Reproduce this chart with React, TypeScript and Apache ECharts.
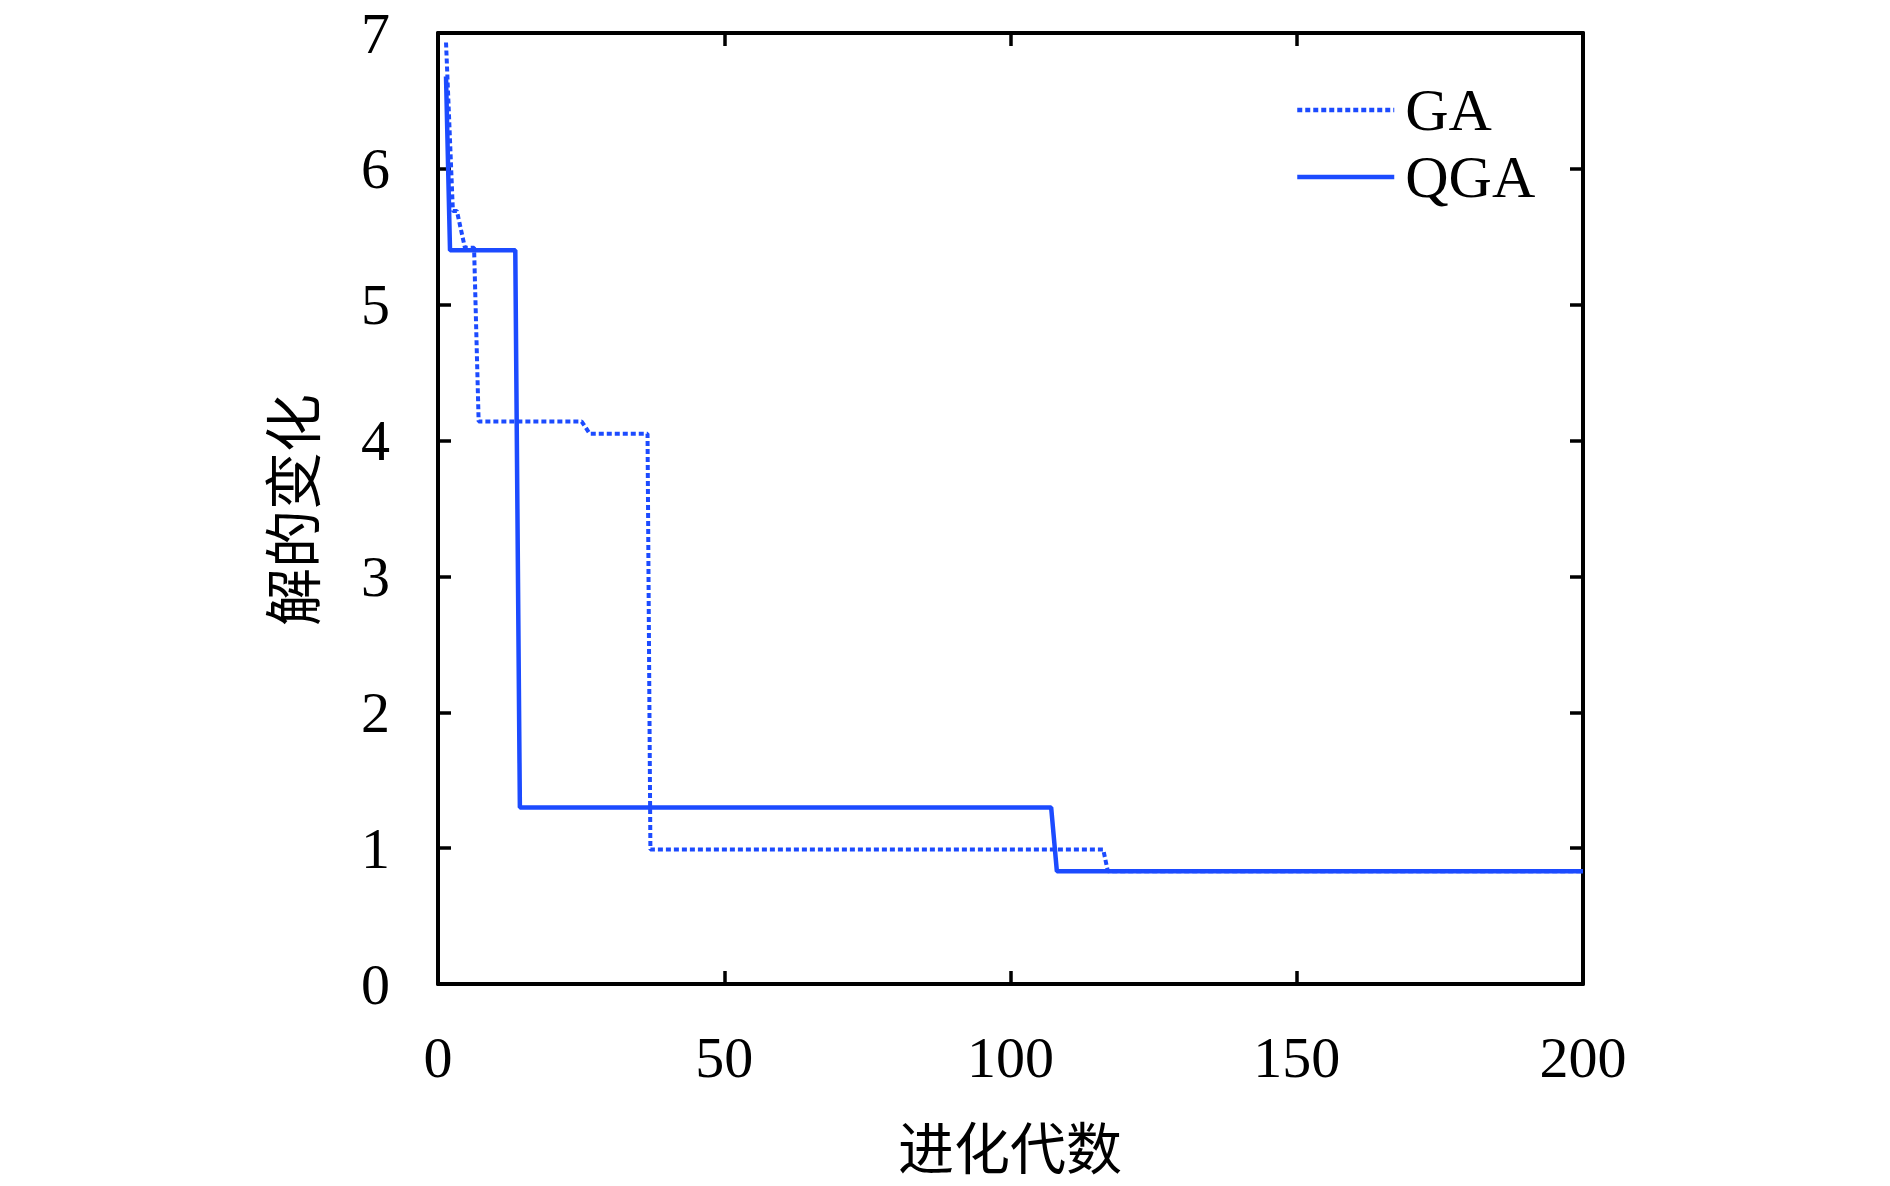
import React, { useEffect, useRef } from "react";
import * as echarts from "echarts";

const xTicks = [0, 50, 100, 150, 200];
const yTicks = [0, 1, 2, 3, 4, 5, 6, 7];
const gaGen = [1.4, 2.6, 3.3, 4.7, 6.3, 7.1, 25.1, 26.5, 36.6, 37.1, 116.2, 117.0, 200];
const gaVal = [6.93, 5.69, 5.69, 5.42, 5.42, 4.14, 4.14, 4.05, 4.05, 0.99, 0.99, 0.83, 0.83];
const qgaGen = [1.4, 2.1, 13.5, 14.3, 107.1, 108.1, 200];
const qgaVal = [6.68, 5.4, 5.4, 1.3, 1.3, 0.83, 0.83];
const seriesNames = ["GA", "QGA"];
const xName = "进化代数";
const yName = "解的变化";

const BLUE = "#1c4bff";
const SERIF = "'Liberation Serif', 'Times New Roman', serif";
const CJK = "'Noto Sans CJK SC', sans-serif";

export default function App() {
  const ref = useRef<HTMLDivElement>(null);
  useEffect(() => {
    document.body.style.margin = "0";
    const chart = echarts.init(ref.current!, null, { renderer: "svg" });
    const L = 438, T = 33, W = 1145, H = 951;
    const axisCommon = {
      type: "value" as const,
      axisLine: { show: true, onZero: false, lineStyle: { color: "#000", width: 4 } },
      axisTick: { show: true, inside: true, length: 13, lineStyle: { color: "#000", width: 3.5 } },
      splitLine: { show: false },
    };
    chart.setOption({
      animation: false,
      backgroundColor: "#fff",
      grid: { left: L, top: T, width: W, height: H, containLabel: false },
      xAxis: [
        {
          ...axisCommon,
          position: "bottom",
          min: 0,
          max: 200,
          interval: 50,
          axisLabel: { show: true, margin: 44, fontSize: 58, fontFamily: SERIF, color: "#000",
            formatter: (v: number) => (xTicks.includes(v) ? String(v) : "") },
        },
        {
          ...axisCommon,
          position: "top",
          min: 0,
          max: 200,
          interval: 50,
          axisLabel: { show: false },
        },
      ],
      yAxis: [
        {
          ...axisCommon,
          position: "left",
          min: 0,
          max: 7,
          interval: 1,
          axisLabel: { show: true, margin: 48, fontSize: 58, fontFamily: SERIF, color: "#000",
            formatter: (v: number) => (yTicks.includes(v) ? String(v) : "") },
        },
        {
          ...axisCommon,
          position: "right",
          min: 0,
          max: 7,
          interval: 1,
          axisLabel: { show: false },
        },
      ],
      legend: {
        show: true,
        orient: "vertical",
        left: 1290,
        top: 75,
        itemWidth: 97,
        itemHeight: 14,
        itemGap: 7,
        itemStyle: { opacity: 0 },
        lineStyle: { width: 4.5 },
        textStyle: { fontSize: 60, fontFamily: SERIF, color: "#000", lineHeight: 60, padding: [0, 0, 0, 6] },
        data: seriesNames,
      },
      graphic: [
        {
          type: "text",
          x: 1010,
          y: 1144,
          style: { text: xName, font: `56px ${CJK}`, fill: "#000", textAlign: "center", textVerticalAlign: "middle" },
        },
        {
          type: "text",
          x: 290,
          y: 510,
          rotation: Math.PI / 2,
          style: { text: yName, font: `58px ${CJK}`, fill: "#000", textAlign: "center", textVerticalAlign: "middle" },
        },
      ],
      series: [
        {
          name: seriesNames[0],
          type: "line",
          symbol: "none",
          data: gaGen.map((g, i) => [g, gaVal[i]]),
          lineStyle: { color: BLUE, width: 4, type: [5, 3] },
          itemStyle: { color: BLUE },
          z: 3,
        },
        {
          name: seriesNames[1],
          type: "line",
          symbol: "none",
          data: qgaGen.map((g, i) => [g, qgaVal[i]]),
          lineStyle: { color: BLUE, width: 4.5, type: "solid" },
          itemStyle: { color: BLUE },
          z: 2,
        },
      ],
    });
    return () => chart.dispose();
  }, []);
  return <div ref={ref} style={{ width: 1890, height: 1186 }} />;
}
